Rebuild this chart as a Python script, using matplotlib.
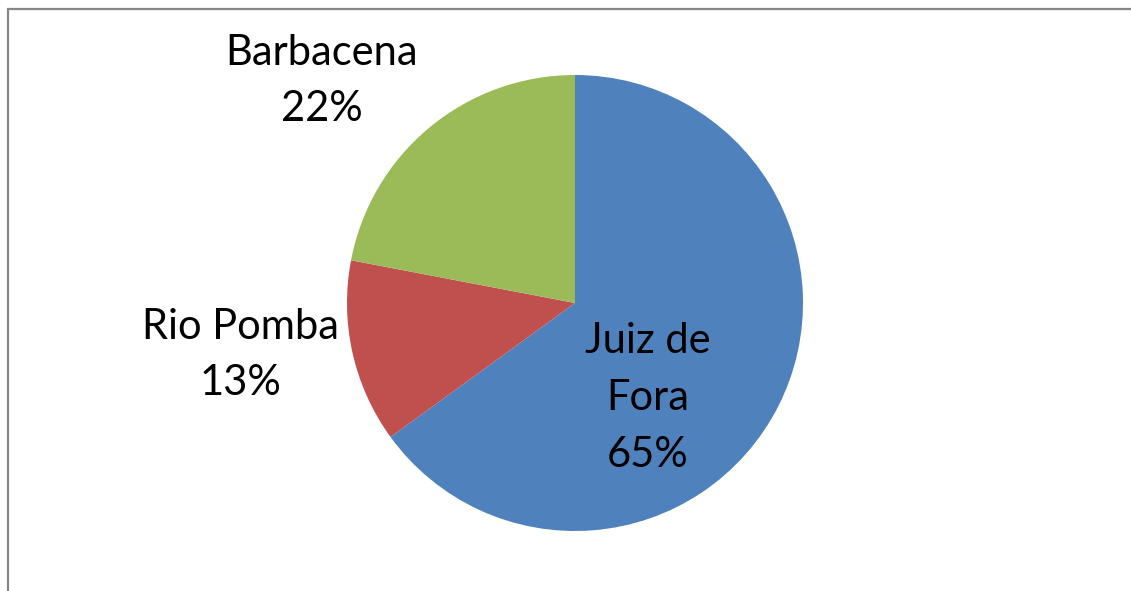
import matplotlib.pyplot as plt
from matplotlib.patches import Rectangle

# data
cidades = ["Juiz de\nFora", "Rio Pomba", "Barbacena"]
valores = [65, 13, 22]
cores = ["#4F81BD", "#C0504D", "#9BBB59"]

# label positions in pixels (from top-left), picked to match the reference layout
label_pos = [(648, 398), (240, 355), (322, 81)]

W, H = 1131, 591

plt.rcParams['font.family'] = ['Lato', 'DejaVu Sans']

fig = plt.figure(figsize=(W / 100, H / 100), dpi=100)
ax = fig.add_axes([0, 0, 1, 1])

cx, cy, r = 575, 303, 228
ax.pie(valores, colors=cores, startangle=90, counterclock=False,
       center=(cx, H - cy), radius=r, frame=True,
       wedgeprops=dict(linewidth=0))

ax.set_xlim(0, W)
ax.set_ylim(0, H)
ax.set_aspect('equal')
ax.axis('off')

for nome, v, (x, y) in zip(cidades, valores, label_pos):
    ax.text(x, H - y, f"{nome}\n{v}%", ha='center', va='center',
            fontsize=30, color='black', linespacing=1.6)

# chart area border (cut off by the image on right and bottom)
ax.add_patch(Rectangle((8, -20), W + 40, H - 9 + 20, fill=False,
                       edgecolor='#868686', linewidth=1.6, clip_on=False))

fig.savefig("out.png", dpi=100)
